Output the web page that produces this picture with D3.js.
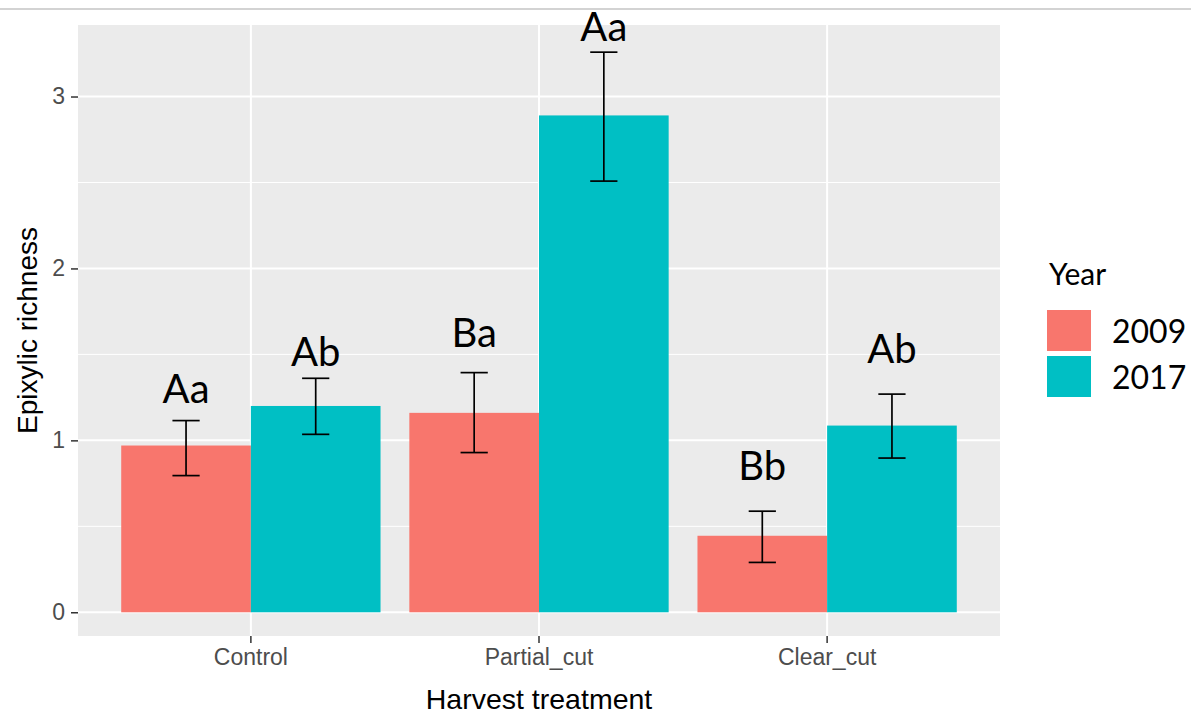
<!DOCTYPE html>
<html>
<head>
<meta charset="utf-8">
<script src="https://cdn.jsdelivr.net/npm/d3@7"></script>
<style>
  html, body { margin: 0; padding: 0; background: #fff; }
  svg { display: block; }
</style>
</head>
<body>
<svg id="chart" width="1191" height="715"></svg>
<script>
// Harvest treatments and sampling years
const treatments = ["Control", "Partial_cut", "Clear_cut"];
const years = ["2009", "2017"];

// Mean epixylic richness per treatment, one array per year
const mean2009 = [0.97, 1.16, 0.445];
const mean2017 = [1.20, 2.89, 1.086];

// Error bar limits (lower / upper)
const lower2009 = [0.795, 0.929, 0.290];
const upper2009 = [1.115, 1.394, 0.588];
const lower2017 = [1.035, 2.508, 0.897];
const upper2017 = [1.361, 3.258, 1.269];

// Significance letters and the height (in richness units) where each is written
const letters2009 = ["Aa", "Ba", "Bb"];
const letters2017 = ["Ab", "Aa", "Ab"];
const letterY2009 = [1.218, 1.545, 0.770];
const letterY2017 = [1.433, 3.325, 1.450];

const yTicks = [0, 1, 2, 3];
const yMinor = [0.5, 1.5, 2.5];

const colors = { "2009": "#F8766D", "2017": "#00BFC4" };

const rows = [];
treatments.forEach((t, i) => {
  rows.push({ treatment: t, year: "2009", mean: mean2009[i], lo: lower2009[i], hi: upper2009[i], letter: letters2009[i], ly: letterY2009[i] });
  rows.push({ treatment: t, year: "2017", mean: mean2017[i], lo: lower2017[i], hi: upper2017[i], letter: letters2017[i], ly: letterY2017[i] });
});

const svg = d3.select("#chart");

// thin separator line across the top
svg.append("line")
  .attr("x1", 0).attr("x2", 1191).attr("y1", 9).attr("y2", 9)
  .attr("stroke", "#c4c4c4").attr("stroke-width", 1.5);

const panel = { left: 78, right: 1000, top: 25, bottom: 636 };

const x = d3.scaleBand()
  .domain(treatments)
  .range([panel.left, panel.right])
  .paddingInner(0.1)
  .paddingOuter(0.15);

const xSub = d3.scaleBand()
  .domain(years)
  .range([0, x.bandwidth()]);

const y = d3.scaleLinear()
  .domain([-0.138, 3.416])
  .range([panel.bottom, panel.top]);

// panel background
svg.append("rect")
  .attr("x", panel.left).attr("y", panel.top)
  .attr("width", panel.right - panel.left)
  .attr("height", panel.bottom - panel.top)
  .attr("fill", "#EBEBEB");

// grid lines
const grid = svg.append("g");
grid.selectAll(".minor").data(yMinor).join("line")
  .attr("x1", panel.left).attr("x2", panel.right)
  .attr("y1", d => y(d)).attr("y2", d => y(d))
  .attr("stroke", "#fff").attr("stroke-width", 1);
grid.selectAll(".major").data(yTicks).join("line")
  .attr("x1", panel.left).attr("x2", panel.right)
  .attr("y1", d => y(d)).attr("y2", d => y(d))
  .attr("stroke", "#fff").attr("stroke-width", 2);
grid.selectAll(".vmajor").data(treatments).join("line")
  .attr("x1", d => x(d) + x.bandwidth() / 2).attr("x2", d => x(d) + x.bandwidth() / 2)
  .attr("y1", panel.top).attr("y2", panel.bottom)
  .attr("stroke", "#fff").attr("stroke-width", 2);

// bars
svg.append("g").selectAll("rect").data(rows).join("rect")
  .attr("x", d => x(d.treatment) + xSub(d.year))
  .attr("width", xSub.bandwidth())
  .attr("y", d => y(d.mean))
  .attr("height", d => y(0) - y(d.mean))
  .attr("fill", d => colors[d.year]);

// error bars
const capW = xSub.bandwidth() * 0.21;
const eb = svg.append("g").attr("stroke", "#000").attr("stroke-width", 1.7);
rows.forEach(d => {
  const cx = x(d.treatment) + xSub(d.year) + xSub.bandwidth() / 2;
  eb.append("line").attr("x1", cx).attr("x2", cx).attr("y1", y(d.lo)).attr("y2", y(d.hi));
  eb.append("line").attr("x1", cx - capW / 2).attr("x2", cx + capW / 2).attr("y1", y(d.lo)).attr("y2", y(d.lo));
  eb.append("line").attr("x1", cx - capW / 2).attr("x2", cx + capW / 2).attr("y1", y(d.hi)).attr("y2", y(d.hi));
});

// significance letters
svg.append("g").selectAll("text").data(rows).join("text")
  .attr("x", d => x(d.treatment) + xSub(d.year) + xSub.bandwidth() / 2)
  .attr("y", d => y(d.ly))
  .attr("text-anchor", "middle")
  .attr("font-family", "Lato, 'Open Sans', sans-serif")
  .attr("font-size", 40)
  .attr("fill", "#000")
  .text(d => d.letter);

// y axis
const yAxis = svg.append("g")
  .attr("transform", `translate(${panel.left},0)`)
  .call(d3.axisLeft(y).tickValues(yTicks).tickSize(7).tickPadding(6).tickFormat(d3.format("d")));
yAxis.select(".domain").remove();
yAxis.selectAll(".tick line").attr("stroke", "#333").attr("stroke-width", 1.5);
yAxis.selectAll(".tick text")
  .attr("font-family", "'Liberation Sans', Arial, sans-serif")
  .attr("font-size", 23).attr("fill", "#4D4D4D");

// x axis
const xAxis = svg.append("g")
  .attr("transform", `translate(0,${panel.bottom})`)
  .call(d3.axisBottom(x).tickSize(7).tickPadding(6));
xAxis.select(".domain").remove();
xAxis.selectAll(".tick line").attr("stroke", "#333").attr("stroke-width", 1.5);
xAxis.selectAll(".tick text")
  .attr("font-family", "'Liberation Sans', Arial, sans-serif")
  .attr("font-size", 23).attr("fill", "#4D4D4D");

// axis titles
svg.append("text")
  .attr("x", (panel.left + panel.right) / 2).attr("y", 709)
  .attr("text-anchor", "middle")
  .attr("font-family", "'Liberation Sans', Arial, sans-serif")
  .attr("font-size", 28.5).attr("fill", "#000")
  .text("Harvest treatment");

svg.append("text")
  .attr("transform", `translate(37,${(panel.top + panel.bottom) / 2}) rotate(-90)`)
  .attr("text-anchor", "middle")
  .attr("font-family", "'Liberation Sans', Arial, sans-serif")
  .attr("font-size", 28).attr("fill", "#000")
  .text("Epixylic richness");

// legend
const legend = svg.append("g").attr("transform", "translate(1047,0)");
legend.append("text")
  .attr("x", 2).attr("y", 285)
  .attr("font-family", "Lato, 'Open Sans', sans-serif")
  .attr("font-size", 30).attr("fill", "#000")
  .text("Year");
years.forEach((yr, i) => {
  const top = 310 + i * 46;
  legend.append("rect")
    .attr("x", 0).attr("y", top).attr("width", 44).attr("height", 41)
    .attr("fill", colors[yr]);
  legend.append("text")
    .attr("x", 65).attr("y", top + 33)
    .attr("font-family", "Lato, 'Open Sans', sans-serif")
    .attr("font-size", 32).attr("fill", "#000")
    .text(yr);
});
</script>
</body>
</html>
